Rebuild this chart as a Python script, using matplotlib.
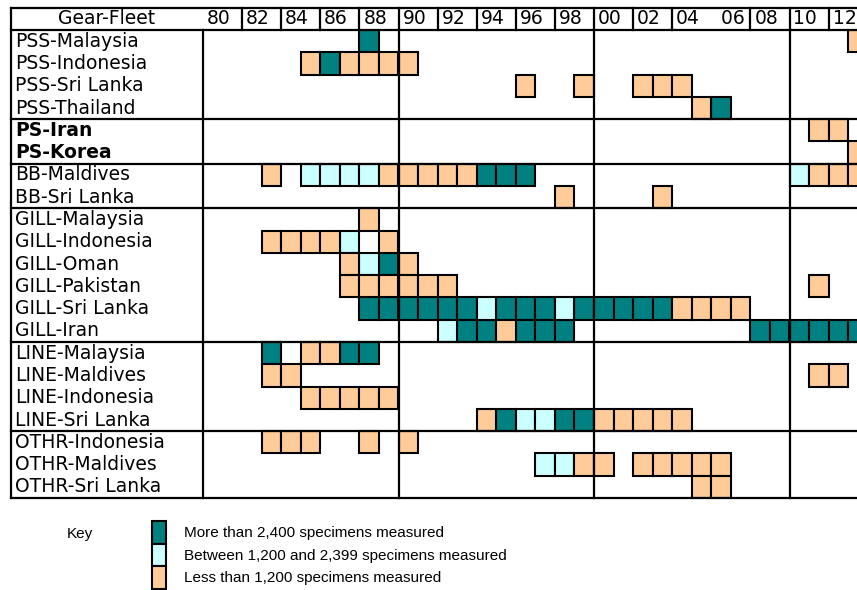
import matplotlib
matplotlib.use("Agg")
import matplotlib.pyplot as plt
import matplotlib.transforms as mtransforms
from matplotlib.patches import Rectangle

fleets = ["PSS-Malaysia", "PSS-Indonesia", "PSS-Sri Lanka", "PSS-Thailand",
          "PS-Iran", "PS-Korea",
          "BB-Maldives", "BB-Sri Lanka",
          "GILL-Malaysia", "GILL-Indonesia", "GILL-Oman", "GILL-Pakistan",
          "GILL-Sri Lanka", "GILL-Iran",
          "LINE-Malaysia", "LINE-Maldives", "LINE-Indonesia", "LINE-Sri Lanka",
          "OTHR-Indonesia", "OTHR-Maldives", "OTHR-Sri Lanka"]
bold_fleets = ["PS-Iran", "PS-Korea"]
section_ends = [4, 6, 8, 14, 18, 21]

header_years = list(range(1980, 2013, 2))
header_labels = ["80", "82", "84", "86", "88", "90", "92", "94", "96", "98",
                 "00", "02", "04", " 06", "08", "10", "12"]

# (fleet, first year, last year)
more_2400 = [("PSS-Malaysia", 1988, 1988), ("PSS-Indonesia", 1986, 1986),
             ("PSS-Thailand", 2006, 2006), ("BB-Maldives", 1994, 1996),
             ("GILL-Oman", 1989, 1989),
             ("GILL-Sri Lanka", 1988, 1993), ("GILL-Sri Lanka", 1995, 1997),
             ("GILL-Sri Lanka", 1999, 2003),
             ("GILL-Iran", 1993, 1994), ("GILL-Iran", 1996, 1998),
             ("GILL-Iran", 2008, 2013),
             ("LINE-Malaysia", 1983, 1983), ("LINE-Malaysia", 1987, 1988),
             ("LINE-Sri Lanka", 1995, 1995), ("LINE-Sri Lanka", 1998, 1999)]
between = [("BB-Maldives", 1985, 1988), ("BB-Maldives", 2010, 2010),
           ("GILL-Indonesia", 1987, 1987), ("GILL-Oman", 1988, 1988),
           ("GILL-Sri Lanka", 1994, 1994), ("GILL-Sri Lanka", 1998, 1998),
           ("GILL-Iran", 1992, 1992), ("LINE-Sri Lanka", 1996, 1997),
           ("OTHR-Maldives", 1997, 1998)]
less_1200 = [("PSS-Malaysia", 2013, 2013),
             ("PSS-Indonesia", 1985, 1985), ("PSS-Indonesia", 1987, 1990),
             ("PSS-Sri Lanka", 1996, 1996), ("PSS-Sri Lanka", 1999, 1999),
             ("PSS-Sri Lanka", 2002, 2004),
             ("PSS-Thailand", 2005, 2005),
             ("PS-Iran", 2011, 2012), ("PS-Korea", 2013, 2013),
             ("BB-Maldives", 1983, 1983), ("BB-Maldives", 1989, 1993),
             ("BB-Maldives", 2011, 2013),
             ("BB-Sri Lanka", 1998, 1998), ("BB-Sri Lanka", 2003, 2003),
             ("GILL-Malaysia", 1988, 1988),
             ("GILL-Indonesia", 1983, 1986), ("GILL-Indonesia", 1989, 1989),
             ("GILL-Oman", 1987, 1987), ("GILL-Oman", 1990, 1990),
             ("GILL-Pakistan", 1987, 1992), ("GILL-Pakistan", 2011, 2011),
             ("GILL-Sri Lanka", 2004, 2007), ("GILL-Iran", 1995, 1995),
             ("LINE-Malaysia", 1985, 1986),
             ("LINE-Maldives", 1983, 1984), ("LINE-Maldives", 2011, 2012),
             ("LINE-Indonesia", 1985, 1989),
             ("LINE-Sri Lanka", 1994, 1994), ("LINE-Sri Lanka", 2000, 2004),
             ("OTHR-Indonesia", 1983, 1985), ("OTHR-Indonesia", 1988, 1988),
             ("OTHR-Indonesia", 1990, 1990),
             ("OTHR-Maldives", 1999, 2000), ("OTHR-Maldives", 2002, 2006),
             ("OTHR-Sri Lanka", 2005, 2006)]

key_labels = ["More than 2,400 specimens measured",
              "Between 1,200 and 2,399 specimens measured",
              "Less than 1,200 specimens measured"]
key_colors = ["#008080", "#CCFFFF", "#FFCC99"]

W, H = 857, 590
fig = plt.figure(figsize=(W / 100, H / 100), dpi=100)


def fx(px):
    return px / W


def fy(py):
    return 1 - py / H


# grid axes: x in years, y in rows
ax = fig.add_axes([fx(203), fy(498), 1 - fx(203), (498 - 30) / H])
ax.set_xlim(1980, 1980 + (857 - 203) / 19.55)
ax.set_ylim(len(fleets), 0)
ax.axis("off")

row = {f: i for i, f in enumerate(fleets)}
for cells, color in zip([more_2400, between, less_1200], key_colors):
    for fleet, y0, y1 in cells:
        yrs = list(range(y0, y1 + 1))
        ax.bar(yrs, 1, width=1, bottom=row[fleet], align="edge",
               color=color, edgecolor="black", linewidth=1.5, zorder=2)

lw = 1.6
trans = mtransforms.blended_transform_factory(fig.transFigure, ax.transData)
top = -0.99

# horizontal lines
for r in [top, 0] + section_ends:
    ax.plot([fx(11), 1], [r, r], color="black", lw=lw, transform=trans,
            clip_on=False, zorder=3)
# left frame
ax.plot([fx(11), fx(11)], [top, len(fleets)], color="black", lw=lw,
        transform=trans, clip_on=False, zorder=3)
# label column and decade lines
for x in [1980, 1990, 2000, 2010]:
    ax.plot([x, x], [0, len(fleets)], color="black", lw=lw, clip_on=False,
            zorder=3)
# header separators
for x in header_years[1:]:
    if x == 2006:
        continue
    ax.plot([x, x], [top, 0], color="black", lw=lw, clip_on=False, zorder=3)

fs = 13.5
for x, lab in zip(header_years, header_labels):
    ax.text(x + 0.2, top / 2, lab, ha="left", va="center", fontsize=fs,
            clip_on=False)
ax.text(fx(107), top / 2, "Gear-Fleet", transform=trans, ha="center",
        va="center", fontsize=fs)

for f in fleets:
    ax.text(fx(15), row[f] + 0.5, f, transform=trans, ha="left", va="center",
            fontsize=fs, fontweight="bold" if f in bold_fleets else "normal")

# key
kfont = "Liberation Sans"
fig.text(fx(67), fy(534), "Key", ha="left", va="center", fontsize=11,
         family=kfont)
for i, (lab, c) in enumerate(zip(key_labels, key_colors)):
    y0 = 521 + i * 22.7
    fig.patches.append(Rectangle((fx(152), fy(y0 + 22.7)), 14 / W, 22.7 / H,
                                 transform=fig.transFigure, facecolor=c,
                                 edgecolor="black", linewidth=1.5))
    fig.text(fx(184), fy(y0 + 12), lab, ha="left", va="center", fontsize=11,
             family=kfont)

fig.savefig("out.png", dpi=100)
